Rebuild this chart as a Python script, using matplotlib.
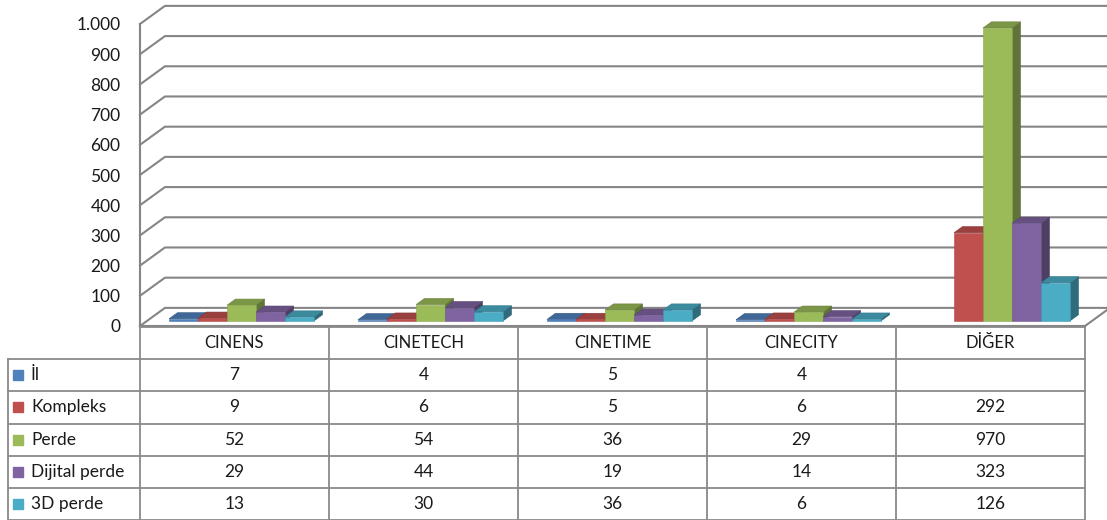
import matplotlib
matplotlib.use("Agg")
import matplotlib.pyplot as plt
import matplotlib.colors as mcolors
from matplotlib.patches import Polygon
import numpy as np

plt.rcParams["font.family"] = ["Lato", "DejaVu Sans"]

categories = ["CINENS", "CINETECH", "CINETIME", "CINECITY", "DİĞER"]
series_names = ["İl", "Kompleks", "Perde", "Dijital perde", "3D perde"]
il = [7, 4, 5, 4, None]
kompleks = [9, 6, 5, 6, 292]
perde = [52, 54, 36, 29, 970]
dijital = [29, 44, 19, 14, 323]
perde_3d = [13, 30, 36, 6, 126]
series_values = [il, kompleks, perde, dijital, perde_3d]
colors = ["#4F81BD", "#C0504D", "#9BBB59", "#8064A2", "#4BACC6"]
yticks = list(range(0, 1001, 100))


def shade(c, f):
    r, g, b = mcolors.to_rgb(c)
    return (r * f, g * f, b * f)


W, H = 1107, 520
fig = plt.figure(figsize=(W / 100, H / 100), dpi=100)
txt_c = "#1a1a1a"

# chart area: x categories, y values
ax = fig.add_axes([140 / W, 194 / H, 945 / W, 302 / H])
ax.set_xlim(-0.5, len(categories) - 0.5)
ax.set_ylim(0, 1000)
for s in ax.spines.values():
    s.set_visible(False)
ax.set_xticks([])
ax.set_yticks(yticks)
ax.set_yticklabels([f"{v:,}".replace(",", ".") for v in yticks], fontsize=12.5, color=txt_c)
ax.tick_params(axis="y", length=0, pad=14)

# 3D depth of the walls (in data units)
DX, DY = 0.132, 60
grid_c = "#858585"
x_left, x_right = -0.5, len(categories) - 0.5

# back wall gridlines + side wall diagonals
for v in yticks:
    ax.plot([x_left, x_left + DX, x_right + DX + 0.2], [v, v + DY, v + DY],
            color=grid_c, lw=1.5, clip_on=False, zorder=1)
ax.plot([x_left, x_left], [0, 1000], color=grid_c, lw=1.5, clip_on=False, zorder=1)
ax.plot([x_left, x_right], [0, 0], color=grid_c, lw=1.5, clip_on=False, zorder=1)
ax.plot([x_right, x_right + DX], [0, DY], color=grid_c, lw=1.5, clip_on=False, zorder=1)

# 3D columns
group_w = 0.767
bar_w = group_w / len(series_names)
f0, f1 = 0.28, 0.62
base = f0 * DY
ddx, ddy = (f1 - f0) * DX, (f1 - f0) * DY
z = 2
for i in range(len(categories)):
    for j, vals in enumerate(series_values):
        v = vals[i]
        if v is None:
            continue
        x0 = i - group_w / 2 + j * bar_w + f0 * DX
        c = colors[j]
        ax.bar(x0, v, width=bar_w, bottom=base, align="edge", color=c,
               edgecolor=shade(c, 0.9), lw=0.4, zorder=z + 2, clip_on=False)
        top = base + v
        ax.add_patch(Polygon([(x0, top), (x0 + bar_w, top), (x0 + bar_w + ddx, top + ddy),
                              (x0 + ddx, top + ddy)], closed=True, fc=shade(c, 0.8),
                             ec=shade(c, 0.7), lw=0.4, zorder=z + 1, clip_on=False))
        ax.add_patch(Polygon([(x0 + bar_w, base), (x0 + bar_w, top), (x0 + bar_w + ddx, top + ddy),
                              (x0 + bar_w + ddx, base + ddy)], closed=True, fc=shade(c, 0.62),
                             ec=shade(c, 0.55), lw=0.4, zorder=z, clip_on=False))
        z += 3

# data table below the chart
label_w = 132 / 189
tx = fig.add_axes([8 / W, 0 / H, 1077 / W, 193 / H])
tx.set_xlim(-label_w, len(categories))
tx.set_ylim(len(series_names) + 1, 0)
tx.axis("off")
line_c = "#8a8a8a"
nrows = len(series_names) + 1
tx.plot([0, len(categories)], [0, 0], color=line_c, lw=1.3, clip_on=False)
for r in range(1, nrows + 1):
    tx.plot([-label_w, len(categories)], [r, r], color=line_c, lw=1.3, clip_on=False)
tx.plot([-label_w, -label_w], [1, nrows], color=line_c, lw=1.3, clip_on=False)
for c_ in range(len(categories) + 1):
    tx.plot([c_, c_], [0, nrows], color=line_c, lw=1.3, clip_on=False)

for i, cat in enumerate(categories):
    tx.text(i + 0.5, 0.5, cat, ha="center", va="center", fontsize=12, color=txt_c)
for j, (name, vals) in enumerate(zip(series_names, series_values)):
    yc = j + 1.5
    tx.plot(-label_w + 10 / 189, yc, marker="s", ms=6.5, color=colors[j], clip_on=False)
    tx.text(-label_w + 23 / 189, yc, name, ha="left", va="center", fontsize=12.5, color=txt_c)
    for i, v in enumerate(vals):
        if v is None:
            continue
        tx.text(i + 0.5, yc, str(v), ha="center", va="center", fontsize=12.5, color=txt_c)

fig.savefig("out.png", dpi=100, facecolor="white")
